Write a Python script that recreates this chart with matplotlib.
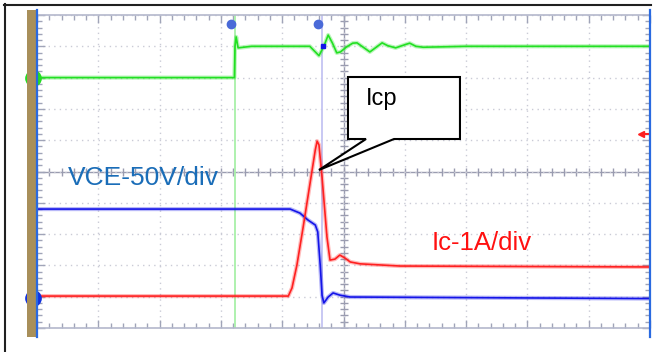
import matplotlib
matplotlib.use('Agg')
import matplotlib.pyplot as plt
from matplotlib.patches import Polygon, Rectangle
from matplotlib.lines import Line2D
import numpy as np

plt.rcParams['font.family'] = ['Liberation Sans', 'DejaVu Sans']

# scope traces, x and y in screen divisions (10 x 10 grid, 0 at bottom-left)
green_t = [0, 3.22, 3.23, 3.25, 3.28, 3.5, 4.0, 4.45, 4.55, 4.60, 4.68, 4.75, 4.82,
           4.89, 4.95, 5.05, 5.15, 5.22, 5.30, 5.43, 5.52, 5.63, 5.72, 5.85, 6.0,
           6.08, 6.18, 6.3, 7.0, 8.0, 9.0, 10]
green_v = [8.0, 8.0, 9.0, 9.3, 8.95, 9.0, 9.0, 9.0, 8.8, 8.7, 9.0, 9.36, 9.1,
           8.79, 8.82, 8.98, 9.1, 9.11, 9.0, 8.82, 8.95, 9.11, 9.02, 8.95, 9.05,
           9.1, 9.0, 8.97, 9.0, 9.0, 9.0, 9.0]

blue_t = [0, 4.13, 4.29, 4.42, 4.54, 4.58, 4.62, 4.65, 4.68, 4.75, 4.83, 4.94, 5.11, 10]
blue_v = [3.80, 3.80, 3.67, 3.45, 3.29, 3.07, 2.01, 1.05, 0.80, 0.99, 1.12, 1.05, 0.99, 0.94]

red_t = [0, 4.10, 4.16, 4.24, 4.34, 4.45, 4.54, 4.57, 4.60, 4.65, 4.73, 4.78, 4.86,
         4.94, 5.02, 5.11, 5.27, 5.92, 10]
red_v = [1.02, 1.02, 1.28, 2.01, 3.20, 4.57, 5.69, 5.97, 5.85, 4.82, 2.91, 2.17, 2.20,
         2.33, 2.24, 2.11, 2.05, 1.98, 1.95]

cursor_t = [3.23, 4.65]
cursor_col = ['#a8f0a8', '#c4c4f2']
ch_level = [8.0, 0.96]      # channel ground markers on the left
ch_col = ['#22dd22', '#1030e0']

labels = ['VCE-50V/div', 'Ic-1A/div', 'Icp']

W, H = 659, 352
X0, X1, Y0, Y1 = 37, 650, 15, 328   # screen area in pixels


def fx(px):
    return px / W


def fy(py):
    return 1 - py / H


fig = plt.figure(figsize=(W / 100, H / 100), dpi=100)
fig.patch.set_facecolor('white')

# outer frame (top and left)
fig.add_artist(Line2D([fx(4), fx(651)], [fy(5), fy(5)], color='#202020', lw=1.5))
fig.add_artist(Line2D([fx(4.5), fx(4.5)], [fy(4), fy(352)], color='#202020', lw=1.5))

# brown bar and blue edges of the scope screen
fig.add_artist(Rectangle((fx(27), fy(337)), fx(36) - fx(27), fy(10) - fy(337),
                         transform=fig.transFigure, color='#a88f5a', lw=0))

ax = fig.add_axes([fx(X0), fy(Y1), fx(X1) - fx(X0), fy(Y0) - fy(Y1)])
ax.set_xlim(0, 10)
ax.set_ylim(0, 10)
ax.set_xticks(np.arange(0, 11, 1))
ax.set_yticks(np.arange(0, 11, 1))
ax.set_xticks(np.arange(0, 10.01, 0.2), minor=True)
ax.set_yticks(np.arange(0, 10.01, 0.2), minor=True)
ax.tick_params(which='both', direction='in', top=True, right=True,
               labelbottom=False, labelleft=False, color='#a0a4b8', width=1)
ax.tick_params(which='major', length=6)
ax.tick_params(which='minor', length=3.5)
ax.grid(True, which='major', color='#cacbd6', lw=1, linestyle=(0, (1, 3)))
for s in ['top', 'bottom']:
    ax.spines[s].set_color('#b4b8cc')
    ax.spines[s].set_linewidth(1.2)
for s in ['left', 'right']:
    ax.spines[s].set_visible(False)

fig.add_artist(Line2D([fx(36.5), fx(36.5)], [fy(10), fy(337)], color='#2a6ae0', lw=1.6))
fig.add_artist(Line2D([fx(650), fx(650)], [fy(10), fy(337)], color='#2a6ae0', lw=1.6))

# center cross with small ticks
ax.axhline(5, color='#9a9cb0', lw=1, zorder=1)
ax.axvline(5, color='#9a9cb0', lw=1, zorder=1)
minor = np.arange(0, 10.01, 0.2)
ax.plot(minor, np.full(minor.size, 5), '|', color='#9a9cb0', ms=6, mew=1, zorder=1)
ax.plot(np.full(minor.size, 5), minor, '_', color='#9a9cb0', ms=6, mew=1, zorder=1)

# cursors
for t, c in zip(cursor_t, cursor_col):
    ax.axvline(t, color=c, lw=1.3, zorder=2)
ax.plot([t - 0.06 for t in cursor_t], [9.7, 9.7], 'o', color='#4a6ad8', ms=6,
        clip_on=False, zorder=5)

# traces, a faint wide line under a solid one to look like scope noise
for t, v, c in [(green_t, green_v, '#22e022'), (blue_t, blue_v, '#1414e8'),
                (red_t, red_v, '#ff2020')]:
    ax.plot(t, v, color=c, lw=3.0, alpha=0.3, zorder=3, solid_joinstyle='round')
    ax.plot(t, v, color=c, lw=1.2, zorder=4, solid_joinstyle='round')

ax.plot([4.67], [9.0], 's', color='#1414e8', ms=3, zorder=5)

# channel markers on the left edge
for lv, c in zip(ch_level, ch_col):
    ax.plot([-0.065], [lv], 'o', color=c, ms=11, clip_on=False, zorder=6)
    ax.text(-0.065, lv, '1', color='white', fontsize=5, ha='center', va='center',
            zorder=7, clip_on=False)

# red level marker on the right
ax.plot([9.85], [6.2], '<', color='#ff2020', ms=5, clip_on=False, zorder=6)
ax.plot([9.85, 9.98], [6.2, 6.2], color='#ff2020', lw=1.5, clip_on=False, zorder=6)

# Icp callout
callout = [(5.073, 8.019), (6.90, 8.019), (6.90, 6.038), (5.824, 6.038),
           (4.60, 5.048), (5.367, 6.038), (5.073, 6.038)]
ax.add_patch(Polygon(callout, closed=True, facecolor='white', edgecolor='black',
                     lw=1.5, zorder=8))
ax.text(5.367, 7.12, labels[2], fontsize=17, color='black', ha='left',
        va='baseline', zorder=9)

ax.text(0.506, 4.569, labels[0], fontsize=19, color='#1a6db8', ha='left',
        va='baseline', zorder=9)
ax.text(6.444, 2.49, labels[1], fontsize=18.5, color='#ff1010', ha='left',
        va='baseline', zorder=9)

fig.savefig('out.png', dpi=100)
